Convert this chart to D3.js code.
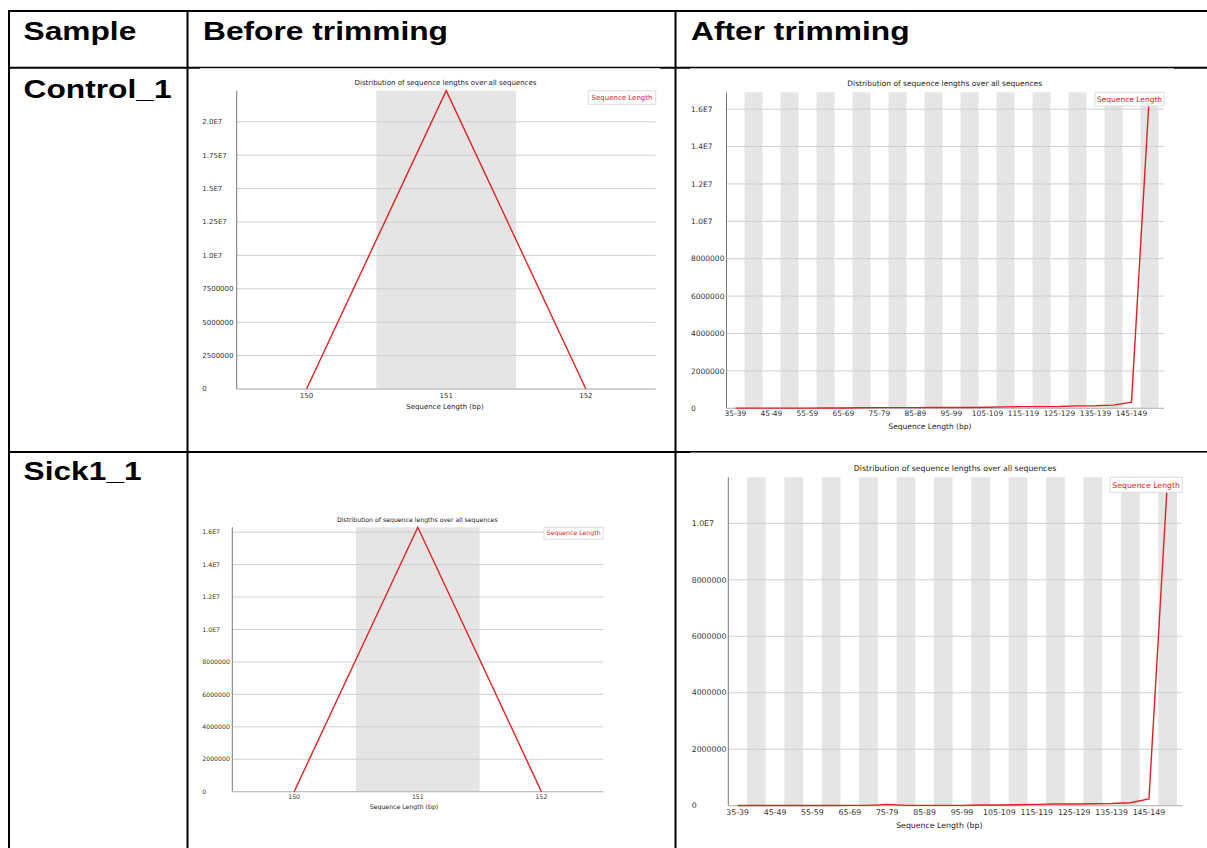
<!DOCTYPE html>
<html>
<head>
<meta charset="utf-8">
<script src="https://cdn.jsdelivr.net/npm/d3@7"></script>
<style>
  html, body { margin: 0; padding: 0; background: #fff; }
  svg { display: block; }
</style>
</head>
<body>
<svg id="page" width="1207" height="848"></svg>
<script>
// ---- data ----
const beforeCategories = ["150", "151", "152"];
const beforeControl = [0, 22330000, 0];
const beforeSick = [0, 16300000, 0];

const afterCategories = [
  "35-39", "40-44", "45-49", "50-54", "55-59", "60-64", "65-69", "70-74",
  "75-79", "80-84", "85-89", "90-94", "95-99", "100-104", "105-109", "110-114",
  "115-119", "120-124", "125-129", "130-134", "135-139", "140-144", "145-149", "150-151"
];
const afterControl = [
  8000, 9000, 10000, 11000, 12000, 14000, 18000, 30000,
  35000, 36000, 38000, 40000, 42000, 45000, 55000, 75000,
  90000, 92000, 95000, 130000, 135000, 170000, 330000, 16900000
];
const afterSick = [
  6000, 7000, 7000, 8000, 8000, 9000, 10000, 12000,
  47000, 12000, 11000, 11000, 12000, 24000, 25000, 35000,
  47000, 60000, 60000, 70000, 80000, 105000, 236000, 11630000
];

const ticksBeforeControl = [0, 2500000, 5000000, 7500000, 10000000, 12500000, 15000000, 17500000, 20000000];
const tickLabelsBeforeControl = ["0", "2500000", "5000000", "7500000", "1.0E7", "1.25E7", "1.5E7", "1.75E7", "2.0E7"];
const ticksAfterControl = [0, 2000000, 4000000, 6000000, 8000000, 10000000, 12000000, 14000000, 16000000];
const tickLabelsAfterControl = ["0", "2000000", "4000000", "6000000", "8000000", "1.0E7", "1.2E7", "1.4E7", "1.6E7"];
const ticksBeforeSick = [0, 2000000, 4000000, 6000000, 8000000, 10000000, 12000000, 14000000, 16000000];
const tickLabelsBeforeSick = ["0", "2000000", "4000000", "6000000", "8000000", "1.0E7", "1.2E7", "1.4E7", "1.6E7"];
const ticksAfterSick = [0, 2000000, 4000000, 6000000, 8000000, 10000000];
const tickLabelsAfterSick = ["0", "2000000", "4000000", "6000000", "8000000", "1.0E7"];

const chartTitle = "Distribution of sequence lengths over all sequences";
const xAxisTitle = "Sequence Length (bp)";
const legendLabel = "Sequence Length";

const columnHeaders = ["Sample", "Before trimming", "After trimming"];
const sampleNames = ["Control_1", "Sick1_1"];

// ---- page ----
const svg = d3.select("#page");
const FONT = "'DejaVu Sans', sans-serif";
const RED = "#e32020";

// Chart image backgrounds (drawn before the table rules that sit behind them)
function imageBackground(x, y, w, h) {
  svg.append("rect").attr("x", x).attr("y", y).attr("width", w).attr("height", h).attr("fill", "#fff");
}

// Table rules
const rules = svg.append("g").attr("stroke", "#000").attr("stroke-width", 2);
rules.append("line").attr("x1", 8).attr("x2", 1207).attr("y1", 11).attr("y2", 11);
rules.append("line").attr("x1", 9).attr("x2", 9).attr("y1", 10).attr("y2", 848);
rules.append("line").attr("x1", 187.5).attr("x2", 187.5).attr("y1", 10).attr("y2", 848);
rules.append("line").attr("x1", 675.5).attr("x2", 675.5).attr("y1", 10).attr("y2", 848);
rules.append("line").attr("x1", 8).attr("x2", 1207).attr("y1", 67.7).attr("y2", 67.7);
rules.append("line").attr("x1", 8).attr("x2", 1207).attr("y1", 452).attr("y2", 452);

imageBackground(200, 68.2, 460, 380);
imageBackground(690, 68.4, 484, 380);
imageBackground(690, 452.6, 517, 395);

// Header and sample labels
function cellText(x, y, s) {
  svg.append("text")
    .attr("transform", `translate(${x},${y}) scale(1.22,1)`)
    .attr("font-family", "'Liberation Sans', Arial, sans-serif")
    .attr("font-weight", "bold")
    .attr("font-size", 26)
    .attr("fill", "#000")
    .text(s);
}
cellText(23.5, 39.5, columnHeaders[0]);
cellText(203, 39.5, columnHeaders[1]);
cellText(691, 39.5, columnHeaders[2]);
cellText(23.5, 97.5, sampleNames[0]);
cellText(23.5, 479.5, sampleNames[1]);

// ---- one FastQC-style sequence length chart ----
function drawChart(cfg, categories, values, ticks, tickLabels) {
  const g = svg.append("g");
  const fs = cfg.fontSize;

  const x = d3.scaleBand().domain(categories).range([cfg.axisX, cfg.catEnd]).paddingInner(0).paddingOuter(0);
  const y = d3.scaleLinear().domain([0, d3.max(values)]).range([cfg.bottom, cfg.top]);
  const cx = c => x(c) + x.bandwidth() / 2;

  // alternating category bands
  g.append("g").selectAll("rect")
    .data(categories.filter((c, i) => i % 2 === 1))
    .join("rect")
    .attr("x", c => x(c)).attr("y", cfg.top)
    .attr("width", x.bandwidth()).attr("height", cfg.bottom - cfg.top)
    .attr("fill", "#e5e5e5");

  // horizontal gridlines
  g.append("g").selectAll("line")
    .data(ticks)
    .join("line")
    .attr("x1", cfg.axisX).attr("x2", cfg.gridEnd)
    .attr("y1", d => y(d)).attr("y2", d => y(d))
    .attr("stroke", "#cfcfcf").attr("stroke-width", 1);

  // y tick labels
  g.append("g").selectAll("text")
    .data(ticks)
    .join("text")
    .attr("x", cfg.yLabelX).attr("y", d => y(d))
    .attr("dy", "0.35em")
    .attr("font-family", FONT).attr("font-size", fs).attr("fill", "#333")
    .text((d, i) => tickLabels[i]);

  // axis lines
  g.append("line").attr("x1", cfg.axisX).attr("x2", cfg.axisX)
    .attr("y1", cfg.top).attr("y2", cfg.bottom).attr("stroke", "#777").attr("stroke-width", 1);
  g.append("line").attr("x1", cfg.axisX).attr("x2", cfg.gridEnd)
    .attr("y1", cfg.bottom).attr("y2", cfg.bottom).attr("stroke", "#bbb").attr("stroke-width", 1);

  // x tick labels
  g.append("g").selectAll("text")
    .data(categories.filter((c, i) => i % cfg.labelEvery === 0 && i < categories.length - (cfg.labelEvery > 1 ? 1 : 0)))
    .join("text")
    .attr("x", c => cx(c)).attr("y", cfg.xLabelY)
    .attr("dy", "0.35em").attr("text-anchor", "middle")
    .attr("font-family", FONT).attr("font-size", fs).attr("fill", "#333")
    .text(c => c);

  // series line
  const line = d3.line().x((d, i) => cx(categories[i])).y(d => y(d));
  g.append("path").datum(values)
    .attr("d", line).attr("fill", "none")
    .attr("stroke", RED).attr("stroke-width", 1.4).attr("stroke-linejoin", "miter");

  // titles
  g.append("text").attr("x", cfg.titleX).attr("y", cfg.titleY).attr("dy", "0.35em")
    .attr("text-anchor", "middle").attr("font-family", FONT).attr("font-size", fs).attr("fill", "#222")
    .text(chartTitle);
  g.append("text").attr("x", cfg.xTitleX).attr("y", cfg.xTitleY).attr("dy", "0.35em")
    .attr("text-anchor", "middle").attr("font-family", FONT).attr("font-size", fs).attr("fill", "#222")
    .text(xAxisTitle);

  // legend
  const [lx0, ly0, lx1, ly1] = cfg.legend;
  g.append("rect").attr("x", lx0).attr("y", ly0).attr("width", lx1 - lx0).attr("height", ly1 - ly0)
    .attr("fill", "#fff").attr("stroke", "#ddd").attr("stroke-width", 1);
  g.append("text").attr("x", (lx0 + lx1) / 2).attr("y", (ly0 + ly1) / 2).attr("dy", "0.35em")
    .attr("text-anchor", "middle").attr("font-family", FONT).attr("font-size", fs).attr("fill", RED)
    .text(legendLabel);
}

drawChart({
  axisX: 236.7, top: 90.7, bottom: 389, catEnd: 655.7, gridEnd: 655.7, yLabelX: 202.3,
  titleX: 445.5, titleY: 82.7, xLabelY: 395.5, xTitleX: 445, xTitleY: 406.7,
  legend: [588.3, 90.7, 655.7, 104.3], fontSize: 7, labelEvery: 1
}, beforeCategories, beforeControl, ticksBeforeControl, tickLabelsBeforeControl);

drawChart({
  axisX: 726.5, top: 92.3, bottom: 408.3, catEnd: 1158.5, gridEnd: 1164, yLabelX: 691,
  titleX: 944.7, titleY: 83.3, xLabelY: 413.8, xTitleX: 930, xTitleY: 426,
  legend: [1095, 92.3, 1164, 106], fontSize: 7.5, labelEvery: 2
}, afterCategories, afterControl, ticksAfterControl, tickLabelsAfterControl);

drawChart({
  axisX: 232.3, top: 527.3, bottom: 791.7, catEnd: 603.3, gridEnd: 603.3, yLabelX: 202.3,
  titleX: 417.3, titleY: 520, xLabelY: 797, xTitleX: 404, xTitleY: 807,
  legend: [544, 527.3, 603.3, 539.3], fontSize: 6.2, labelEvery: 1
}, beforeCategories, beforeSick, ticksBeforeSick, tickLabelsBeforeSick);

drawChart({
  axisX: 728.3, top: 477.3, bottom: 805.7, catEnd: 1177, gridEnd: 1182.3, yLabelX: 691.7,
  titleX: 955, titleY: 468.3, xLabelY: 812.5, xTitleX: 939.3, xTitleY: 825,
  legend: [1110, 477.3, 1182.3, 492.3], fontSize: 7.8, labelEvery: 2
}, afterCategories, afterSick, ticksAfterSick, tickLabelsAfterSick);
</script>
</body>
</html>
